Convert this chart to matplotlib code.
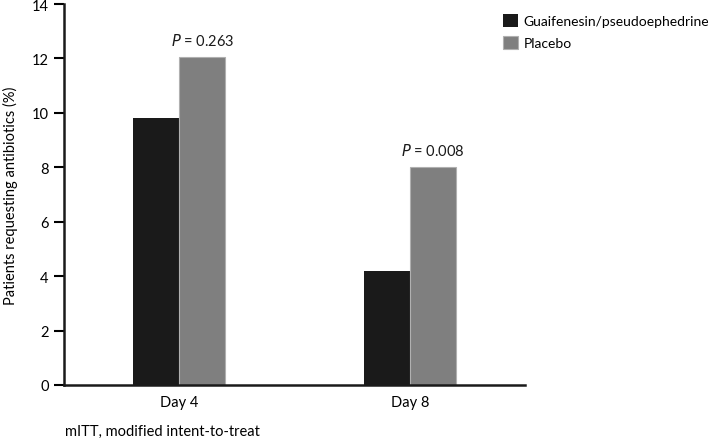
import matplotlib
matplotlib.use("Agg")
import matplotlib.pyplot as plt
import numpy as np

plt.rcParams['font.family'] = ['Lato', 'DejaVu Sans']

categories = ["Day 4", "Day 8"]
series_names = ["Guaifenesin/pseudoephedrine", "Placebo"]
guai = [9.8, 4.2]
placebo = [12.05, 8.0]
p_labels = ["0.263", "0.008"]
yticks = [0, 2, 4, 6, 8, 10, 12, 14]

fig = plt.figure(figsize=(7.19, 4.39), dpi=100)
ax = fig.add_axes([64/719, 1-386/439, (525-64)/719, (386-5)/439])

x = np.arange(len(categories))
w = 0.2
ax.bar(x - w/2, guai, w, color="#1a1a1a", label=series_names[0])
ax.bar(x + w/2, placebo, w, color="#7f7f7f", edgecolor="#b0b0b0", linewidth=0.8, label=series_names[1])

for xi, v, p in zip(x, placebo, p_labels):
    ax.text(xi + w/2, v + 0.35, r"$\it{P}$" + " = " + p, ha="center", va="bottom", fontsize=10.5, color="#1a1a1a")

ax.set_xlim(-0.5, 1.5)
ax.set_ylim(0, 14)
ax.set_xticks(x)
ax.set_xticklabels(categories, fontsize=10.5)
ax.set_yticks(yticks)
ax.set_yticklabels([str(t) for t in yticks], fontsize=10.5)
ax.tick_params(axis="x", length=0, pad=7)
ax.tick_params(axis="y", length=7, width=1.5, pad=4)
for s in ["top", "right"]:
    ax.spines[s].set_visible(False)
for s in ["left", "bottom"]:
    ax.spines[s].set_linewidth(1.8)
    ax.spines[s].set_color("#1a1a1a")
ax.set_ylabel("Patients requesting antibiotics (%)", fontsize=10.5, labelpad=10)

fig.legend(loc="upper left", bbox_to_anchor=(503/719, 1-15/439), bbox_transform=fig.transFigure,
           frameon=False, fontsize=10,
           handlelength=1.1, handleheight=1.1, handletextpad=0.4, labelspacing=0.6,
           borderaxespad=0.0, borderpad=0.0)

fig.text(65/719, 1-432/439, "mITT, modified intent-to-treat", fontsize=10.5, va="center", ha="left")

fig.savefig("out.png", dpi=100)
